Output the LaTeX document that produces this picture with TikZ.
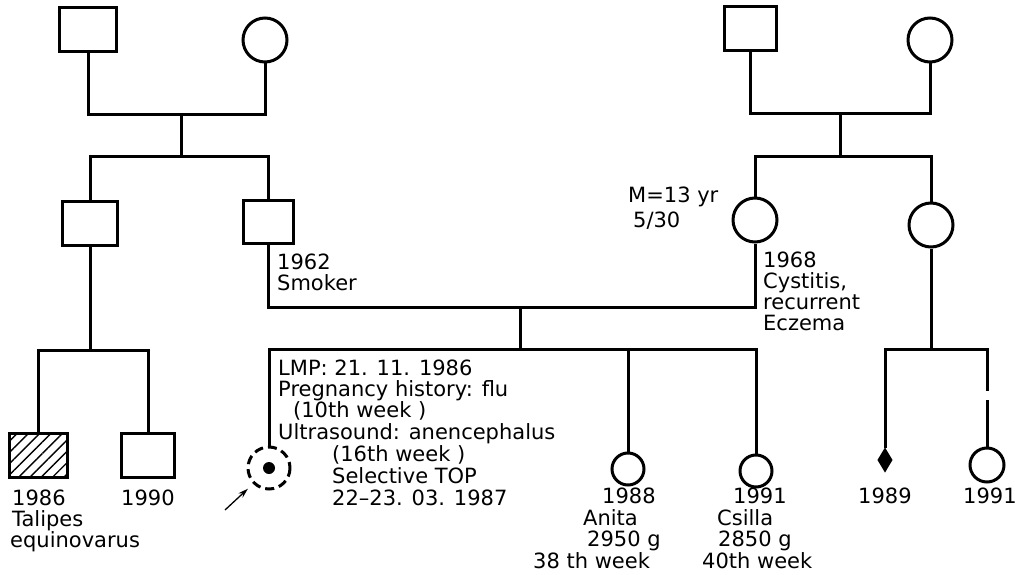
\documentclass[tikz,border=0pt]{standalone}
\usepackage{fontspec}
\setmainfont{DejaVu Sans}
\usetikzlibrary{patterns.meta,arrows.meta,shapes.geometric}
\begin{document}
\begin{tikzpicture}[x=1pt,y=-1pt,
  lw/.style={line width=3pt},
  male/.style={draw,rectangle,inner sep=0pt,lw},
  fem/.style={draw,circle,inner sep=0pt,lw},
  link/.style={lw},
  lbl/.style={anchor=base west,inner sep=0pt,font=\fontsize{21}{22}\selectfont}]
\useasboundingbox (0,0) rectangle (1015,575);
% ---- left grandparents
\node[male,minimum width=57pt,minimum height=44pt] (gf1) at (88,30) {};
\node[fem,minimum size=44pt] (gm1) at (265,40) {};
\coordinate (mar1) at (181,115);
\coordinate (sib1) at (181,157);
\draw[link] (gf1.south) |- (mar1) -| (gm1.south);
\draw[link] (mar1) -- (sib1);
\node[male,minimum width=55pt,minimum height=44pt] (c1) at (90,223) {};
\node[male,minimum width=50pt,minimum height=43pt] (c2) at (268,221.5) {};
\draw[link] (c1.north) |- (sib1) -| (c2.north);
% ---- right grandparents
\node[male,minimum width=52pt,minimum height=44pt] (gf2) at (750,29) {};
\node[fem,minimum size=44pt] (gm2) at (930,40) {};
\coordinate (mar2) at (840,114);
\coordinate (sib2) at (840,157);
\draw[link] (gf2.south) |- (mar2) -| (gm2.south);
\draw[link] (mar2) -- (sib2);
\node[fem,minimum size=44pt] (m) at (755,220) {};
\node[fem,minimum size=44pt] (a2) at (931,225) {};
\draw[link] (m.north) |- (sib2) -| (a2.north);
% ---- couple
\coordinate (cp) at (520,307);
\coordinate (sib3) at (520,349);
\draw[link] (c2.south) |- (cp) -| (m.south);
\draw[link] (cp) -- (sib3);
\node[draw,circle,inner sep=0pt,line width=3pt,minimum size=42pt,dash pattern=on 9pt off 5pt,dash phase=3pt] (fetus) at (269,468) {};
\node[circle,fill,inner sep=0pt,minimum size=12pt] (fdot) at (fetus.center) {};
\node[fem,minimum size=32pt] (anita) at (628,469) {};
\node[fem,minimum size=32pt] (csilla) at (756,471) {};
\draw[link] (fetus.north) |- (sib3) -| (csilla.north);
\draw[link] (anita.north) -- (anita.north |- sib3);
\coordinate (arrS) at (225,510);
\draw[line width=1.3pt,-{Stealth[length=10pt,width=6pt]},shorten >=7pt] (arrS) -- (fetus.south west);
% ---- left family
\coordinate (sib4) at (90,350);
\draw[link] (c1.south) -- (sib4);
\node[male,minimum width=58pt,minimum height=44pt,pattern={Lines[angle=45,distance=8pt,line width=1.4pt]}] (h1) at (38,455) {};
\node[male,minimum width=53pt,minimum height=44pt] (h2) at (148,455) {};
\draw[link] (h1.north) |- (sib4) -| (h2.north);
% ---- right family
\coordinate (sib5) at (931,349);
\draw[link] (a2.south) -- (sib5);
\node[draw,fill,diamond,inner sep=0pt,minimum width=14pt,minimum height=23pt,line width=1.4pt] (dia) at (885,460) {};
\node[fem,minimum size=34pt] (cz) at (987,465) {};
\coordinate (gapT) at (987,391);
\coordinate (gapB) at (987,400);
\draw[link] (dia.north) |- (sib5) -| (gapT);
\draw[link] (gapB) -- (cz.north);
% ---- labels
\node[lbl] (t1962) at (277,269) {1962};
\node[lbl] (tsmok) at (277,290) {Smoker};
\node[lbl] (tm13) at (628,202) {M=13 yr};
\node[lbl] (t530) at (633,227) {5/30};
\node[lbl] (t1968) at (763,267) {1968};
\node[lbl] (tcyst) at (763,288) {Cystitis,};
\node[lbl] (trec) at (763,309) {recurrent};
\node[lbl] (tecz) at (763,330) {Eczema};
\node[lbl] (b1) at (278,375) {LMP: 21. 11. 1986};
\node[lbl] (b2) at (278,396) {Pregnancy history: flu};
\node[lbl] (b3) at (293,417) {(10th week )};
\node[lbl] (b4) at (278,439) {Ultrasound: anencephalus};
\node[lbl] (b5) at (332,461) {(16th week )};
\node[lbl] (b6) at (332,483) {Selective TOP};
\node[lbl] (b7) at (332,505) {22–23. 03. 1987};
\node[lbl] (l1) at (12,505) {1986};
\node[lbl] (l2) at (12,526) {Talipes};
\node[lbl] (l3) at (10,547) {equinovarus};
\node[lbl] (l4) at (121,505) {1990};
\node[lbl] (a1) at (602,503) {1988};
\node[lbl] (a2t) at (583,525) {Anita};
\node[lbl] (a3) at (587,546) {2950 g};
\node[lbl] (a4) at (533,568) {38 th week};
\node[lbl] (s1) at (733,503) {1991};
\node[lbl] (s2) at (717,525) {Csilla};
\node[lbl] (s3) at (718,546) {2850 g};
\node[lbl] (s4) at (702,568) {40th week};
\node[lbl] (r1) at (858,503) {1989};
\node[lbl] (r2) at (963,503) {1991};
\end{tikzpicture}
\end{document}
